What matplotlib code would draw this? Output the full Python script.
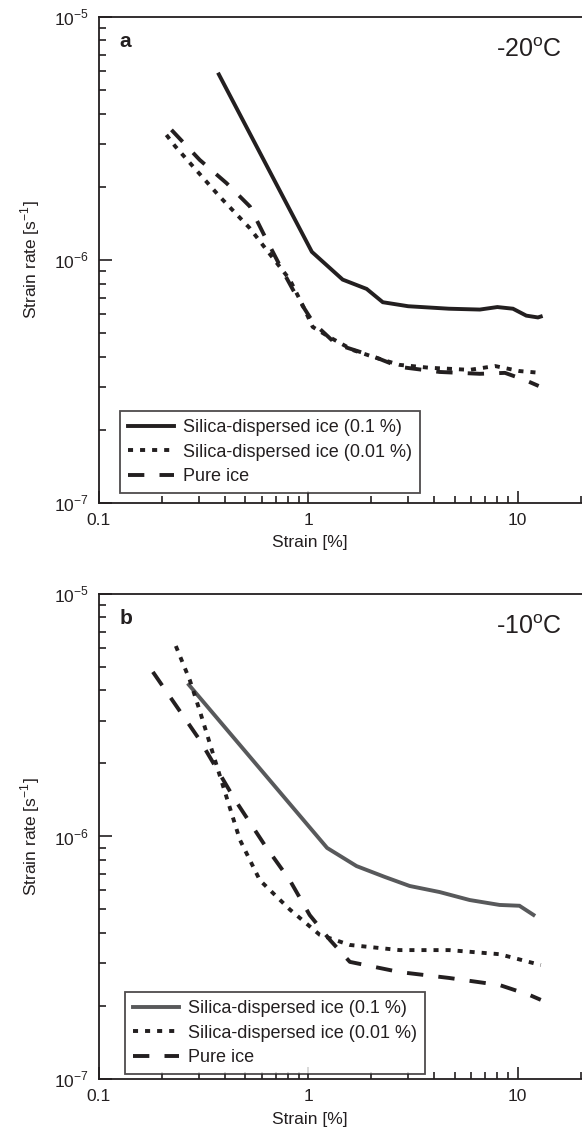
import matplotlib
matplotlib.use('Agg')
import matplotlib.pyplot as plt
from matplotlib.ticker import LogLocator, NullFormatter, FixedLocator

plt.rcParams['font.family'] = ['Liberation Sans', 'DejaVu Sans']
plt.rcParams['mathtext.fontset'] = 'custom'
plt.rcParams['mathtext.rm'] = 'Liberation Sans'

INK = '#231f20'
GREY = '#58595b'

LABELS = ['Silica-dispersed ice (0.1 %)', 'Silica-dispersed ice (0.01 %)', 'Pure ice']

# panel a, -20 C
a_strain_01 = [0.374, 1.04, 1.46, 1.90, 2.27, 3.0, 4.7, 6.6, 8.0, 9.5, 11.0, 12.5, 12.9]
a_rate_01 = [5.8e-6, 1.08e-6, 8.3e-7, 7.6e-7, 6.7e-7, 6.45e-7, 6.3e-7, 6.25e-7, 6.4e-7, 6.3e-7,
             5.9e-7, 5.8e-7, 5.85e-7]
a_strain_001 = [0.210, 0.231, 0.282, 0.378, 0.526, 0.632, 0.816, 0.941, 1.05, 1.27, 1.63, 2.12,
                2.73, 3.8, 5.9, 7.8, 10.2, 12.9]
a_rate_001 = [3.27e-6, 2.94e-6, 2.42e-6, 1.82e-6, 1.35e-6, 1.10e-6, 8.3e-7, 6.5e-7, 5.3e-7, 4.8e-7,
              4.26e-7, 3.95e-7, 3.70e-7, 3.60e-7, 3.53e-7, 3.66e-7, 3.49e-7, 3.43e-7]
a_strain_pure = [0.222, 0.303, 0.407, 0.526, 0.620, 0.745, 0.878, 1.06, 1.36, 1.97, 2.73, 4.24,
                 6.6, 8.7, 10.8, 12.6]
a_rate_pure = [3.43e-6, 2.58e-6, 2.07e-6, 1.66e-6, 1.25e-6, 9.2e-7, 7.1e-7, 5.5e-7, 4.5e-7, 4.06e-7,
               3.63e-7, 3.46e-7, 3.40e-7, 3.43e-7, 3.21e-7, 3.03e-7]

# panel b, -10 C
b_strain_01 = [0.269, 1.23, 1.70, 2.32, 3.05, 4.24, 5.9, 8.2, 10.2, 11.9]
b_rate_01 = [4.22e-6, 8.97e-7, 7.55e-7, 6.81e-7, 6.25e-7, 5.90e-7, 5.47e-7, 5.22e-7, 5.18e-7, 4.75e-7]
b_strain_001 = [0.233, 0.272, 0.303, 0.358, 0.471, 0.587, 0.816, 1.135, 1.58, 2.73, 4.7, 8.2, 12.9]
b_rate_001 = [6.1e-6, 4.4e-6, 3.3e-6, 2.07e-6, 9.7e-7, 6.6e-7, 5.0e-7, 3.93e-7, 3.57e-7, 3.40e-7,
              3.40e-7, 3.27e-7, 2.95e-7]
b_strain_pure = [0.181, 0.303, 0.448, 0.620, 0.816, 1.016, 1.27, 1.58, 2.73, 4.7, 8.2, 11.4, 12.9]
b_rate_pure = [4.77e-6, 2.5e-6, 1.41e-6, 9.2e-7, 6.6e-7, 4.74e-7, 3.74e-7, 3.04e-7, 2.76e-7, 2.61e-7,
               2.44e-7, 2.22e-7, 2.12e-7]


def style_axes(ax, xlabel_y):
    ax.set_xscale('log')
    ax.set_yscale('log')
    ax.set_xlim(0.1, 20.3)
    ax.set_ylim(1e-7, 1e-5)
    ax.spines['right'].set_visible(False)
    for sp in ax.spines.values():
        sp.set_linewidth(1.3)
        sp.set_color(INK)
    ax.xaxis.set_major_locator(FixedLocator([0.1, 1, 10]))
    ax.set_xticklabels(['0.1', '1', '10'])
    ax.xaxis.set_minor_locator(LogLocator(base=10, subs=range(2, 10)))
    ax.xaxis.set_minor_formatter(NullFormatter())
    ax.yaxis.set_major_locator(FixedLocator([1e-7, 1e-6, 1e-5]))
    ax.set_yticklabels([r'$10^{-7}$', r'$10^{-6}$', r'$10^{-5}$'])
    ax.yaxis.set_minor_locator(LogLocator(base=10, subs=range(2, 10)))
    ax.yaxis.set_minor_formatter(NullFormatter())
    ax.tick_params(which='both', direction='in', top=False, right=False, color=INK,
                   labelsize=12.5, labelcolor=INK)
    ax.tick_params(which='major', length=9, width=1.2, pad=7)
    ax.tick_params(which='minor', length=5, width=1.2)
    ax.set_xlabel('Strain [%]', fontsize=12.5, color=INK)
    ax.set_ylabel(r'Strain rate [s$^{-1}$]', fontsize=12.5, color=INK)
    ax.xaxis.set_label_coords(0.437, xlabel_y)
    ax.yaxis.set_label_coords(-0.118, 0.5)


def draw_panel(ax, s01, r01, s001, r001, spure, rpure, c01, letter, temp, leg_xy, xlabel_y):
    ax.plot(s01, r01, color=c01, lw=2.8, solid_joinstyle='miter', label=LABELS[0])
    ax.plot(s001, r001, color=INK, lw=2.8, ls=(0, (1.3, 1.8)), label=LABELS[1])
    ax.plot(spure, rpure, color=INK, lw=2.8, ls=(0, (4.2, 3.9)), label=LABELS[2])
    style_axes(ax, xlabel_y)
    ax.text(0.043, 0.968, letter, transform=ax.transAxes, fontsize=15, fontweight='bold',
            color=INK, va='top', ha='left')
    ax.text(0.958, 0.932, temp, transform=ax.transAxes, fontsize=18, color=INK,
            va='center', ha='right')
    leg = ax.legend(loc='lower left', bbox_to_anchor=leg_xy, borderaxespad=0, fontsize=13,
                    frameon=True, fancybox=False, edgecolor=INK, handlelength=2.55,
                    handletextpad=0.5, borderpad=0.45, labelspacing=0.4)
    leg.get_frame().set_linewidth(1.3)
    for t in leg.get_texts():
        t.set_color(INK)


fig = plt.figure(figsize=(5.82, 11.29), dpi=100)
ax_a = fig.add_axes([0.170, 0.5545, 0.830, 0.4305])
ax_b = fig.add_axes([0.170, 0.0443, 0.830, 0.4296])

draw_panel(ax_a, a_strain_01, a_rate_01, a_strain_001, a_rate_001, a_strain_pure, a_rate_pure,
           INK, 'a', r'-20$^{\mathrm{o}}$C', (0.0435, 0.0206), -0.066)
draw_panel(ax_b, b_strain_01, b_rate_01, b_strain_001, b_rate_001, b_strain_pure, b_rate_pure,
           GREY, 'b', r'-10$^{\mathrm{o}}$C', (0.054, 0.0103), -0.068)

fig.savefig('out.png', dpi=100)
